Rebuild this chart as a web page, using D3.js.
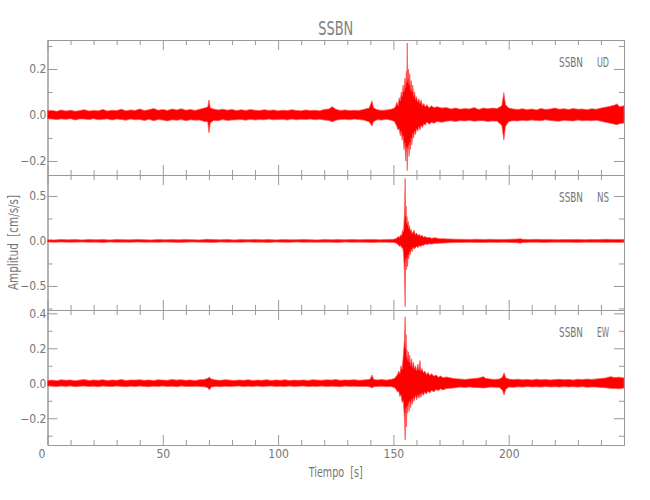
<!DOCTYPE html>
<html><head><meta charset="utf-8">
<script src="https://cdn.jsdelivr.net/npm/d3@7/dist/d3.min.js"></script>
<style>
body{margin:0;background:#fff}
svg{display:block}
text{font-family:"Liberation Sans Narrow","DejaVu Sans Condensed","Liberation Sans",sans-serif;fill:#767676}
</style>
</head><body><svg id="c" width="650" height="500"></svg>
<script>
// ---------- data ----------
const title = "SSBN";
const station = "SSBN";
const components = ["UD", "NS", "EW"];
const xLabel = "Tiempo  [s]";
const yLabel = "Amplitud  [cm/s/s]";
const xDomain = [0, 250];
const xMajorTicks = [0, 50, 100, 150, 200, 250];
const xTickLabels = ["0", "50", "100", "150", "200", ""];
const yDomains = [[-0.261, 0.326], [-0.767, 0.733], [-0.353, 0.419]];
const yMajorTicks = [[-0.2, 0, 0.2], [-0.5, 0, 0.5], [-0.2, 0, 0.2, 0.4]];
const yTickLabels = [["−0.2", "0.0", "0.2"], ["−0.5", "0.0", "0.5"], ["−0.2", "0.0", "0.2", "0.4"]];
const yMinorTicks = [[-0.1, 0.1, 0.3], [-0.75, -0.25, 0.25], [-0.3, -0.1, 0.1, 0.3]];

// envelope of each trace: [time s, upper amplitude, lower amplitude]
const traceUD = [
[0,.018,-.016],[2,.02,-.018],[4,.016,-.02],[6,.022,-.017],[8,.017,-.019],[10,.021,-.016],[12,.016,-.022],[14,.019,-.017],
[16,.023,-.018],[18,.017,-.02],[20,.02,-.016],[22,.018,-.021],[24,.024,-.019],[26,.017,-.017],[28,.021,-.022],[30,.019,-.018],
[32,.025,-.02],[34,.018,-.023],[36,.022,-.018],[38,.02,-.021],[40,.026,-.02],[42,.019,-.024],[44,.023,-.019],[46,.028,-.025],
[48,.021,-.02],[50,.024,-.022],[52,.02,-.026],[54,.026,-.021],[56,.022,-.023],[58,.027,-.02],[60,.021,-.025],[62,.024,-.021],
[64,.02,-.023],[66,.025,-.022],[68,.03,-.028],[69.5,.035,-.03],[70,.065,-.077],[70.6,.03,-.035],[72,.026,-.024],[74,.022,-.025],
[76,.025,-.02],[78,.021,-.024],[80,.024,-.022],[82,.019,-.021],[84,.023,-.02],[86,.02,-.023],[88,.024,-.019],[90,.021,-.022],
[92,.019,-.02],[94,.023,-.021],[96,.02,-.018],[98,.022,-.021],[100,.018,-.02],[102,.021,-.019],[104,.019,-.022],[106,.023,-.018],
[108,.02,-.021],[110,.018,-.019],[112,.022,-.02],[114,.019,-.018],[116,.021,-.021],[118,.018,-.019],[120,.024,-.022],[122,.026,-.024],
[123.5,.036,-.03],[125,.025,-.023],[127,.02,-.02],[129,.022,-.019],[131,.019,-.021],[133,.021,-.018],[135,.02,-.02],[137,.024,-.022],
[139.5,.03,-.03],[140.7,.061,-.048],[141.4,.03,-.028],[143,.023,-.021],[145,.02,-.022],[147,.022,-.019],[149,.025,-.023],
[150.5,.03,-.028],[151,.04,-.04],[151.5,.055,-.05],[152,.04,-.065],[152.5,.075,-.06],[153,.06,-.09],[153.4,.1,-.07],[153.8,.08,-.11],
[154.2,.13,-.09],[154.6,.1,-.15],[155,.16,-.12],[155.3,.12,-.2],[155.6,.19,-.14],[155.8,.14,-.17],[156,.313,-.242],[156.2,.15,-.15],
[156.5,.2,-.13],[156.8,.13,-.18],[157.1,.18,-.12],[157.4,.11,-.15],[157.7,.15,-.1],[158,.1,-.13],[158.4,.13,-.08],[158.8,.08,-.1],
[159.2,.1,-.07],[159.6,.065,-.085],[160,.08,-.06],[160.5,.055,-.07],[161,.07,-.05],[161.5,.05,-.065],[162,.065,-.045],[162.6,.04,-.055],
[163.2,.05,-.038],[163.8,.035,-.045],[164.5,.045,-.03],[165.5,.03,-.04],[166.5,.04,-.032],[167.5,.032,-.036],[169,.036,-.028],
[171,.03,-.032],[173,.032,-.027],[175,.026,-.025],[177,.03,-.028],[179,.025,-.024],[181,.028,-.026],[183,.026,-.023],[185,.032,-.027],
[187,.024,-.025],[189,.03,-.025],[191,.027,-.028],[193,.03,-.026],[195,.028,-.027],[197,.04,-.045],[197.9,.097,-.109],[198.6,.045,-.05],
[200,.03,-.028],[202,.026,-.025],[204,.024,-.026],[206,.027,-.023],[208,.023,-.025],[210,.026,-.022],[212,.022,-.024],[214,.028,-.025],
[216,.024,-.021],[218,.026,-.024],[220,.03,-.026],[222,.025,-.027],[224,.027,-.023],[226,.024,-.025],[228,.028,-.026],[230,.025,-.022],
[232,.026,-.025],[234,.023,-.024],[236,.027,-.025],[238,.025,-.023],[240,.03,-.027],[242,.034,-.032],[244,.038,-.036],[246,.043,-.04],
[247,.048,-.043],[248,.036,-.038],[250,.04,-.035]
];
const traceNS = [
[0,.014,-.012],[3,.012,-.014],[6,.016,-.012],[9,.013,-.015],[12,.015,-.013],[15,.012,-.012],[18,.017,-.014],[21,.013,-.013],
[24,.015,-.016],[27,.012,-.012],[30,.016,-.014],[33,.014,-.013],[36,.013,-.015],[39,.017,-.012],[42,.014,-.014],[45,.012,-.013],
[48,.016,-.015],[51,.013,-.012],[54,.015,-.014],[57,.013,-.016],[60,.016,-.013],[63,.014,-.012],[66,.012,-.014],[69,.018,-.015],
[72,.015,-.016],[75,.013,-.012],[78,.016,-.014],[81,.012,-.013],[84,.015,-.015],[87,.014,-.012],[90,.016,-.014],[93,.013,-.013],
[96,.015,-.016],[99,.012,-.012],[102,.016,-.014],[105,.014,-.015],[108,.013,-.012],[111,.017,-.014],[114,.014,-.013],[117,.012,-.015],
[120,.016,-.013],[123,.014,-.014],[126,.015,-.016],[129,.013,-.012],[132,.016,-.014],[135,.014,-.013],[138,.015,-.015],[141,.017,-.016],
[144,.014,-.013],[147,.016,-.015],[150,.018,-.016],[151,.025,-.022],[151.6,.035,-.03],[152.2,.05,-.045],[152.7,.04,-.06],
[153.2,.07,-.05],[153.6,.06,-.08],[154,.12,-.07],[154.4,.1,-.14],[154.8,.3,-.35],[155.1,.696,-.73],[155.3,.28,-.2],[155.5,.39,-.25],
[155.7,.2,-.32],[155.9,.27,-.18],[156.1,.18,-.285],[156.4,.22,-.15],[156.7,.14,-.2],[157,.17,-.12],[157.3,.11,-.15],[157.7,.13,-.09],
[158.1,.08,-.12],[158.5,.1,-.07],[159,.12,-.09],[159.4,.07,-.08],[160,.09,-.06],[160.6,.06,-.075],[161.2,.075,-.05],[161.8,.05,-.065],
[162.4,.067,-.045],[163,.04,-.05],[163.8,.05,-.035],[164.6,.035,-.04],[165.5,.04,-.03],[166.5,.03,-.035],[168,.035,-.028],
[170,.026,-.024],[172,.025,-.022],[174,.022,-.02],[177,.02,-.018],[180,.018,-.016],[183,.017,-.015],[186,.019,-.016],[189,.016,-.017],
[192,.018,-.015],[195,.017,-.016],[198,.016,-.015],[201,.019,-.017],[204,.022,-.02],[205,.026,-.024],[206,.018,-.017],[209,.016,-.015],
[212,.018,-.014],[215,.015,-.016],[218,.017,-.015],[221,.014,-.013],[224,.016,-.015],[227,.015,-.014],[230,.017,-.016],[233,.014,-.013],
[236,.016,-.015],[239,.015,-.014],[242,.018,-.016],[245,.016,-.015],[248,.017,-.016],[250,.015,-.014]
];
const traceEW = [
[0,.016,-.015],[2,.018,-.017],[4,.015,-.019],[6,.02,-.016],[8,.017,-.018],[10,.019,-.015],[12,.015,-.02],[14,.018,-.017],
[16,.021,-.016],[18,.016,-.019],[20,.019,-.017],[22,.017,-.02],[24,.02,-.016],[26,.016,-.018],[28,.019,-.019],[30,.017,-.016],
[32,.021,-.018],[34,.016,-.02],[36,.019,-.017],[38,.018,-.019],[40,.02,-.016],[42,.017,-.018],[44,.019,-.02],[46,.016,-.017],
[48,.02,-.018],[50,.018,-.016],[52,.017,-.019],[54,.021,-.017],[56,.018,-.02],[58,.02,-.016],[60,.017,-.018],[62,.019,-.019],
[64,.016,-.017],[66,.02,-.018],[68,.022,-.02],[69.5,.028,-.025],[70.2,.035,-.038],[71,.025,-.022],[73,.019,-.018],[75,.017,-.02],
[77,.02,-.017],[79,.018,-.019],[81,.016,-.017],[83,.019,-.016],[85,.017,-.019],[87,.02,-.017],[89,.016,-.018],[91,.018,-.016],
[93,.017,-.019],[95,.02,-.017],[97,.016,-.016],[99,.019,-.018],[101,.017,-.017],[103,.02,-.019],[105,.016,-.016],[107,.018,-.018],
[109,.017,-.017],[111,.019,-.016],[113,.016,-.019],[115,.02,-.017],[117,.018,-.018],[119,.017,-.016],[121,.02,-.019],[123,.018,-.017],
[125,.021,-.018],[127,.017,-.02],[129,.019,-.016],[131,.018,-.018],[133,.02,-.017],[135,.017,-.019],[137,.019,-.018],[139,.021,-.019],
[140,.025,-.022],[140.7,.047,-.027],[141.5,.022,-.02],[143,.019,-.018],[145,.021,-.017],[147,.018,-.02],[149,.022,-.019],
[150.5,.028,-.025],[151.2,.04,-.035],[151.8,.05,-.05],[152.3,.07,-.045],[152.8,.055,-.075],[153.3,.1,-.065],[153.8,.08,-.11],
[154.3,.16,-.1],[154.8,.25,-.2],[155.1,.38,-.324],[155.3,.2,-.2],[155.5,.28,-.14],[155.7,.15,-.25],[155.9,.19,-.13],[156.2,.13,-.17],
[156.5,.18,-.11],[156.8,.12,-.16],[157.1,.16,-.1],[157.5,.1,-.14],[157.9,.14,-.09],[158.3,.09,-.12],[158.7,.12,-.08],[159.1,.08,-.1],
[159.6,.1,-.07],[160.1,.07,-.095],[160.6,.11,-.065],[161.1,.075,-.085],[161.5,.13,-.06],[161.9,.07,-.08],[162.4,.085,-.055],
[163,.06,-.07],[163.6,.07,-.05],[164.3,.05,-.062],[165,.062,-.045],[165.8,.045,-.055],[166.6,.055,-.04],[167.5,.04,-.05],
[168.5,.048,-.035],[169.5,.035,-.042],[170.5,.042,-.032],[171.5,.032,-.038],[173,.036,-.03],[175,.03,-.028],[177,.026,-.025],
[179,.024,-.022],[181,.022,-.024],[183,.025,-.021],[185,.027,-.024],[187,.03,-.025],[189,.038,-.027],[190,.028,-.026],[192,.024,-.022],
[194,.022,-.023],[196,.025,-.024],[197.3,.035,-.04],[198,.06,-.067],[198.7,.032,-.035],[200,.024,-.022],[202,.021,-.023],[204,.023,-.02],
[206,.02,-.022],[208,.022,-.019],[210,.019,-.021],[212,.023,-.02],[214,.02,-.022],[216,.022,-.019],[218,.019,-.021],[220,.021,-.02],
[222,.023,-.022],[224,.02,-.019],[226,.022,-.021],[228,.019,-.02],[230,.023,-.022],[232,.021,-.019],[234,.024,-.023],[236,.022,-.021],
[238,.025,-.022],[240,.027,-.024],[242,.03,-.026],[244,.038,-.029],[246,.033,-.03],[248,.035,-.032],[250,.03,-.027]
];
const traces = [traceUD, traceNS, traceEW];

// ---------- layout ----------
const svg = d3.select("#c");
const left = 47.5, right = 624;
const panelTops = [40, 175, 310];
const panelH = 135;
const axisColor = "#9a9a9a";
const traceColor = "#ff0000";

const x = d3.scaleLinear().domain(xDomain).range([left, right]);
const xMinor = d3.range(0, 251, 10).filter(v => v % 50 !== 0);

function styleAxis(g) {
  g.selectAll("path.domain").attr("stroke", axisColor).attr("stroke-width", 1);
  g.selectAll(".tick line").attr("stroke", axisColor);
  g.selectAll("text").attr("fill", "#767676").style("font-size", "12px");
}

components.forEach((comp, i) => {
  const top = panelTops[i], bottom = top + panelH;
  const y = d3.scaleLinear().domain(yDomains[i]).range([bottom, top]);
  const g = svg.append("g");

  const la = g.append("g").attr("transform", `translate(${left},0)`)
    .call(d3.axisLeft(y).tickValues(yMajorTicks[i]).tickSize(-10).tickSizeOuter(0)
      .tickPadding(1).tickFormat((d, k) => yTickLabels[i][k]));
  styleAxis(la);
  const lm = g.append("g").attr("transform", `translate(${left},0)`)
    .call(d3.axisLeft(y).tickValues(yMinorTicks[i]).tickSize(-5).tickSizeOuter(0).tickFormat(""));
  styleAxis(lm);
  const ra = g.append("g").attr("transform", `translate(${right},0)`)
    .call(d3.axisRight(y).tickValues(yMajorTicks[i]).tickSize(-10).tickSizeOuter(0).tickFormat(""));
  styleAxis(ra);
  const rm = g.append("g").attr("transform", `translate(${right},0)`)
    .call(d3.axisRight(y).tickValues(yMinorTicks[i]).tickSize(-5).tickSizeOuter(0).tickFormat(""));
  styleAxis(rm);
  const ta = g.append("g").attr("transform", `translate(0,${top})`)
    .call(d3.axisTop(x).tickValues(xMajorTicks).tickSize(-10).tickSizeOuter(0).tickFormat(""));
  styleAxis(ta);
  const tm = g.append("g").attr("transform", `translate(0,${top})`)
    .call(d3.axisTop(x).tickValues(xMinor).tickSize(-5).tickSizeOuter(0).tickFormat(""));
  styleAxis(tm);
  const ba = g.append("g").attr("transform", `translate(0,${bottom})`)
    .call(d3.axisBottom(x).tickValues(xMajorTicks).tickSize(-10).tickSizeOuter(0).tickPadding(4)
      .tickFormat((d, k) => i === 2 ? xTickLabels[k] : ""));
  styleAxis(ba);
  ba.selectAll(".tick text").filter(d => d === 0).attr("dx", -6);
  const bm = g.append("g").attr("transform", `translate(0,${bottom})`)
    .call(d3.axisBottom(x).tickValues(xMinor).tickSize(-5).tickSizeOuter(0).tickFormat(""));
  styleAxis(bm);

  const area = d3.area()
    .x(d => x(d[0]))
    .y0(d => y(d[2]))
    .y1(d => y(d[1]));
  g.append("path").datum(traces[i])
    .attr("d", area)
    .attr("fill", traceColor)
    .attr("stroke", "#ff5050")
    .attr("stroke-width", 0.7)
    .attr("stroke-linejoin", "miter");

  g.append("text").attr("x", 559).attr("y", top + 27)
    .attr("textLength", 24).attr("lengthAdjust", "spacingAndGlyphs")
    .style("font-size", "14px").text(station);
  g.append("text").attr("x", 597).attr("y", top + 27)
    .attr("textLength", 12).attr("lengthAdjust", "spacingAndGlyphs")
    .style("font-size", "14px").text(comp);
});

svg.append("text").attr("x", (left + right) / 2).attr("y", 35)
  .attr("text-anchor", "middle")
  .attr("textLength", 35).attr("lengthAdjust", "spacingAndGlyphs")
  .style("font-size", "20px").style("fill", "#808080").text(title);

svg.append("text").attr("x", (left + right) / 2).attr("y", 477)
  .attr("text-anchor", "middle").attr("xml:space", "preserve")
  .attr("textLength", 54).attr("lengthAdjust", "spacingAndGlyphs")
  .style("font-size", "14px").text(xLabel);

svg.append("text")
  .attr("transform", `translate(18,${(panelTops[0] + panelTops[2] + panelH) / 2}) rotate(-90)`)
  .attr("text-anchor", "middle").attr("xml:space", "preserve")
  .attr("textLength", 95).attr("lengthAdjust", "spacingAndGlyphs")
  .style("font-size", "14px").text(yLabel);
</script>
</body></html>
